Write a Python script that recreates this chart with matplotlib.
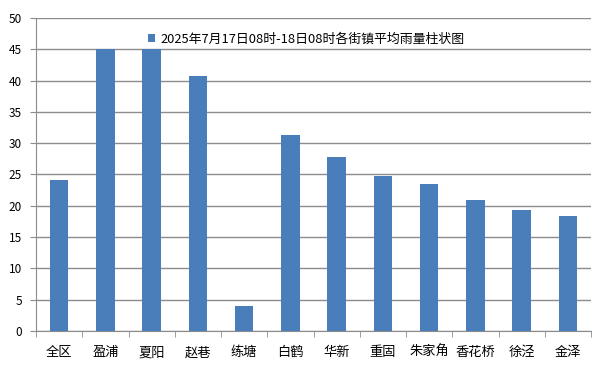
import numpy as np
import matplotlib
matplotlib.use('Agg')
import matplotlib.pyplot as plt

plt.rcParams['font.family'] = ['Noto Sans CJK SC', 'DejaVu Sans']

# data
towns = ['全区', '盈浦', '夏阳', '赵巷', '练塘', '白鹤', '华新', '重固', '朱家角', '香花桥', '徐泾', '金泽']
rain = [24.1, 45.0, 45.0, 40.8, 3.9, 31.3, 27.8, 24.8, 23.5, 20.9, 19.3, 18.4]
label = '2025年7月17日08时-18日08时各街镇平均雨量柱状图'

fig = plt.figure(figsize=(6, 3.76), dpi=100)
ax = fig.add_axes([0.06, 0.12, 0.925, 0.832])

x = np.arange(len(towns))
ax.bar(x, rain, width=0.4, color='#4a7ebb', label=label, zorder=3)

ax.set_xlim(-0.5, len(towns) - 0.5)
ax.set_ylim(0, 50)
ax.set_yticks(np.arange(0, 51, 5))
ax.yaxis.grid(True, color='#8c8c8c', linewidth=1, zorder=0)

ax.set_xticks(x)
ax.set_xticklabels(towns, fontsize=9.5)
ax.set_xticks(np.arange(-0.5, len(towns)), minor=True)
ax.tick_params(axis='x', which='major', length=0, pad=11)
ax.tick_params(axis='x', which='minor', length=4, color='#8c8c8c')
ax.tick_params(axis='y', length=4, color='#8c8c8c', labelsize=8.5, pad=6)

for s in ['top', 'right']:
    ax.spines[s].set_visible(False)
for s in ['left', 'bottom']:
    ax.spines[s].set_color('#8c8c8c')

leg = ax.legend(loc='upper left', bbox_to_anchor=(0.18, 0.99), frameon=False,
                fontsize=9.3, handlelength=0.6, handleheight=0.6, handletextpad=0.4)

fig.savefig('out.png')
